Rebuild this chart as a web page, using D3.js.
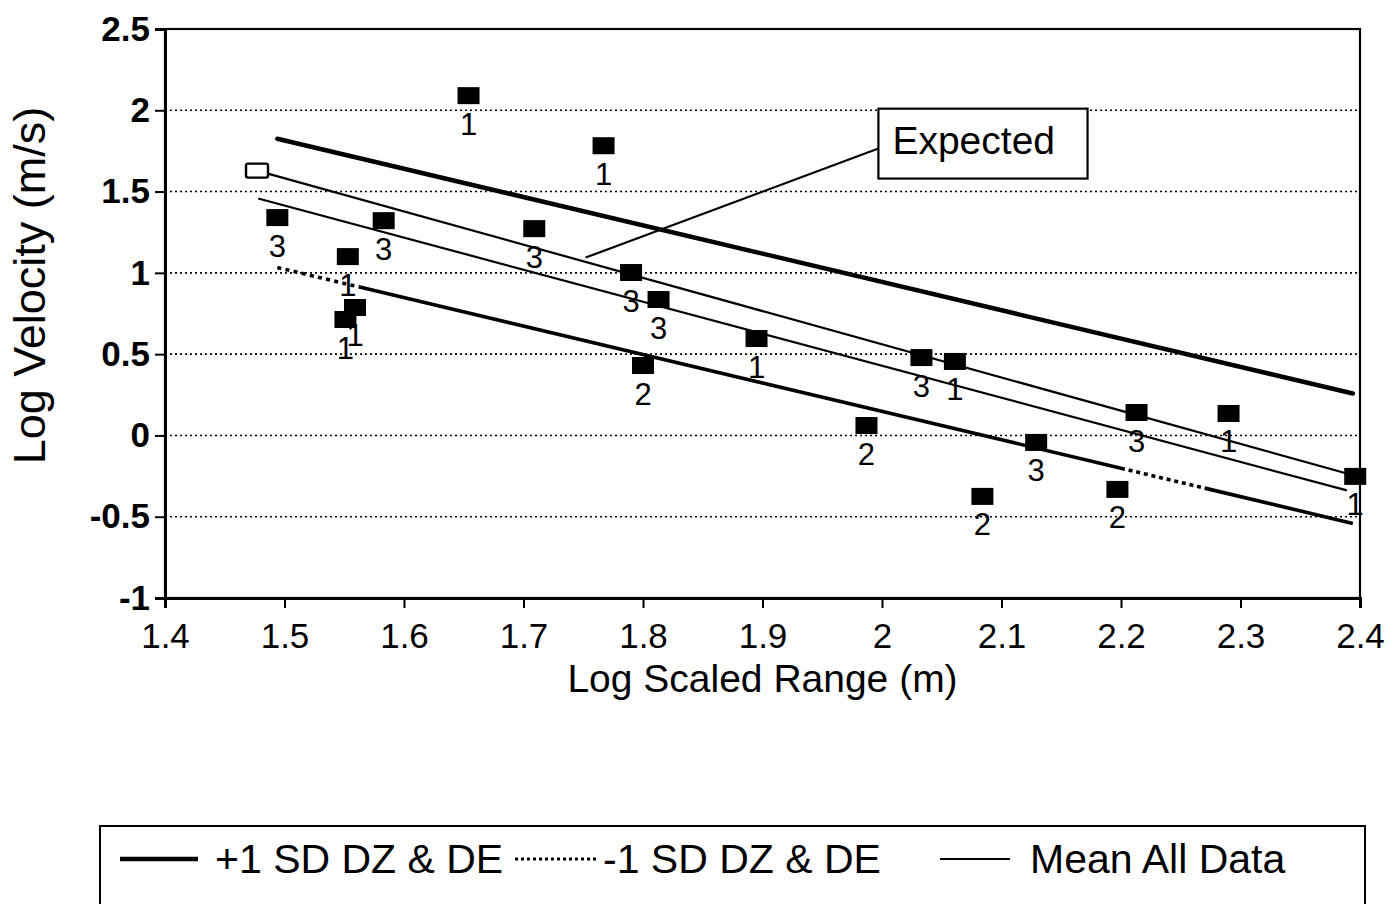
<!DOCTYPE html>
<html>
<head>
<meta charset="utf-8">
<script src="https://cdn.jsdelivr.net/npm/d3@7"></script>
<style>
  html, body { margin: 0; padding: 0; background: #fff; }
  svg { display: block; }
  text { font-family: "Liberation Sans", Arial, Helvetica, sans-serif; fill: #000; }
</style>
</head>
<body>
<svg id="chart" width="1398" height="904"></svg>
<script>
// ---------- data ----------
const xTicks = [1.4, 1.5, 1.6, 1.7, 1.8, 1.9, 2, 2.1, 2.2, 2.3, 2.4];
const yTicks = [-1, -0.5, 0, 0.5, 1, 1.5, 2, 2.5];
const gridValues = [-0.5, 0, 0.5, 1, 1.5, 2];

// observed test points (log scaled range, log velocity, group label)
const pointX = [1.654, 1.767, 1.494, 1.583, 1.553, 1.551, 1.559, 1.709, 1.790, 1.813, 1.800,
                1.895, 1.987, 2.033, 2.061, 2.084, 2.129, 2.197, 2.213, 2.290, 2.396];
const pointY = [2.090, 1.782, 1.340, 1.321, 1.100, 0.713, 0.787, 1.272, 1.002, 0.836, 0.430,
                0.596, 0.061, 0.479, 0.455, -0.375, -0.043, -0.332, 0.141, 0.135, -0.252];
const pointLabel = ["1", "1", "3", "3", "1", "1", "1", "3", "3", "3", "2",
                    "1", "2", "3", "1", "2", "3", "2", "3", "1", "1"];

// regression lines (end points)
const plusSdX = [1.494, 2.394];
const plusSdY = [1.825, 0.258];
const minusSdX = [1.494, 2.394];
const minusSdY = [1.033, -0.541];
const expectedX = [1.477, 2.392];
const expectedY = [1.629, -0.240];
const meanX = [1.478, 2.389];
const meanY = [1.457, -0.338];

// annotation
const calloutText = "Expected";
const calloutTarget = [1.752, 1.094];
const calloutBoxX = [1.997, 2.172];
const calloutBoxY = [2.010, 1.580];

const legendLabels = ["+1 SD DZ & DE", "-1 SD DZ & DE", "Mean All Data"];

// ---------- chart ----------
const svg = d3.select("#chart");
const x = d3.scaleLinear().domain([1.4, 2.4]).range([165, 1360]);
const y = d3.scaleLinear().domain([-1, 2.5]).range([598, 29]);

// gridlines
svg.append("g").selectAll("line").data(gridValues).join("line")
  .attr("x1", x(1.4)).attr("x2", x(2.4))
  .attr("y1", d => y(d)).attr("y2", d => y(d))
  .attr("stroke", "#000").attr("stroke-width", 1.6)
  .attr("stroke-dasharray", "2,3");

// frame
svg.append("rect")
  .attr("x", x(1.4)).attr("y", y(2.5))
  .attr("width", x(2.4) - x(1.4)).attr("height", y(-1) - y(2.5))
  .attr("fill", "none").attr("stroke", "#000").attr("stroke-width", 2.2);

// axes
const yAxis = svg.append("g").attr("transform", `translate(${x(1.4)},0)`)
  .call(d3.axisLeft(y).tickValues(yTicks).tickSize(10).tickPadding(5).tickFormat(d => String(d)));
yAxis.selectAll("text").style("font-size", "35px").style("font-weight", "bold")
  .style("font-family", '"Liberation Sans", Arial, sans-serif');
yAxis.select(".domain").attr("stroke-width", 3);
yAxis.selectAll(".tick line").attr("stroke-width", 2);

const xAxis = svg.append("g").attr("transform", `translate(0,${y(-1)})`)
  .call(d3.axisBottom(x).tickValues(xTicks).tickSize(10).tickPadding(15).tickFormat(d => String(d)));
xAxis.selectAll("text").style("font-size", "35px")
  .style("font-family", '"Liberation Sans", Arial, sans-serif');
xAxis.select(".domain").attr("stroke-width", 3);
xAxis.selectAll(".tick line").attr("stroke-width", 2);

// axis titles
svg.append("text").attr("x", (x(1.4) + x(2.4)) / 2).attr("y", 692)
  .attr("text-anchor", "middle").style("font-size", "39px").text("Log Scaled Range (m)");
svg.append("text")
  .attr("transform", `translate(45,${(y(2.5) + y(-1)) / 2 - 28}) rotate(-90)`)
  .attr("text-anchor", "middle").style("font-size", "45px").text("Log Velocity (m/s)");

// lines
const line = d3.line().x(d => x(d[0])).y(d => y(d[1]));
const zip = (a, b) => a.map((v, i) => [v, b[i]]);

svg.append("path").datum(zip(plusSdX, plusSdY)).attr("d", line)
  .attr("fill", "none").attr("stroke", "#000").attr("stroke-width", 4.5).attr("stroke-linecap", "round");

const minusPath = svg.append("path").datum(zip(minusSdX, minusSdY)).attr("d", line)
  .attr("fill", "none").attr("stroke", "#000").attr("stroke-width", 3.6);
// partially dotted appearance of the -1 SD line (dotted at start and near 2.2-2.27)
(function () {
  const L = minusPath.node().getTotalLength();
  const span = minusSdX[1] - minusSdX[0];
  const f = v => (v - minusSdX[0]) / span * L;
  const seg = [];
  const dots = (len) => { const n = Math.max(1, Math.round(len / 8)); for (let i = 0; i < n; i++) seg.push(4, len / n - 4); };
  dots(f(1.562));
  seg.push(f(2.20) - f(1.562), 0);
  dots(f(2.27) - f(2.20));
  seg.push(L - f(2.27) + 5, 0);
  minusPath.attr("stroke-dasharray", seg.join(","));
})();

svg.append("path").datum(zip(expectedX, expectedY)).attr("d", line)
  .attr("fill", "none").attr("stroke", "#000").attr("stroke-width", 2.2);
svg.append("path").datum(zip(meanX, meanY)).attr("d", line)
  .attr("fill", "none").attr("stroke", "#000").attr("stroke-width", 2.2);

// open marker at the start of the expected line
svg.append("rect")
  .attr("x", x(expectedX[0]) - 11).attr("y", y(expectedY[0]) - 7)
  .attr("width", 22).attr("height", 14).attr("rx", 2)
  .attr("fill", "#fff").attr("stroke", "#000").attr("stroke-width", 2.4);

// points: labels first so that overlapping markers sit on top, as in the original
const pts = pointX.map((v, i) => ({ x: v, y: pointY[i], label: pointLabel[i] }));
svg.append("g").selectAll("text").data(pts).join("text")
  .attr("x", d => x(d.x)).attr("y", d => y(d.y) + 39)
  .attr("text-anchor", "middle").style("font-size", "31px").text(d => d.label);
svg.append("g").selectAll("rect").data(pts).join("rect")
  .attr("x", d => x(d.x) - 11).attr("y", d => y(d.y) - 8.5)
  .attr("width", 22).attr("height", 17).attr("fill", "#000");

// callout
const bx0 = x(calloutBoxX[0]), bx1 = x(calloutBoxX[1]);
const by0 = y(calloutBoxY[0]), by1 = y(calloutBoxY[1]);
svg.append("line")
  .attr("x1", bx0).attr("y1", by0 + (by1 - by0) * 0.57)
  .attr("x2", x(calloutTarget[0])).attr("y2", y(calloutTarget[1]))
  .attr("stroke", "#000").attr("stroke-width", 2.2);
svg.append("rect").attr("x", bx0).attr("y", by0)
  .attr("width", bx1 - bx0).attr("height", by1 - by0)
  .attr("fill", "#fff").attr("stroke", "#000").attr("stroke-width", 2.2);
svg.append("text").attr("x", bx0 + 14).attr("y", by0 + 45)
  .style("font-size", "39px").text(calloutText);

// legend
const lg = svg.append("g");
lg.append("rect").attr("x", 100).attr("y", 826).attr("width", 1265).attr("height", 120)
  .attr("fill", "none").attr("stroke", "#000").attr("stroke-width", 2);
const legendItems = [
  { x0: 120, x1: 198, tx: 215, w: 4.5, dash: null, label: legendLabels[0] },
  { x0: 515, x1: 597, tx: 603, w: 3, dash: "3,3", label: legendLabels[1] },
  { x0: 940, x1: 1010, tx: 1030, w: 2, dash: null, label: legendLabels[2] }
];
legendItems.forEach(it => {
  lg.append("line").attr("x1", it.x0).attr("x2", it.x1).attr("y1", 859).attr("y2", 859)
    .attr("stroke", "#000").attr("stroke-width", it.w).attr("stroke-dasharray", it.dash);
  lg.append("text").attr("x", it.tx).attr("y", 873).style("font-size", "41px").text(it.label);
});
</script>
</body>
</html>
